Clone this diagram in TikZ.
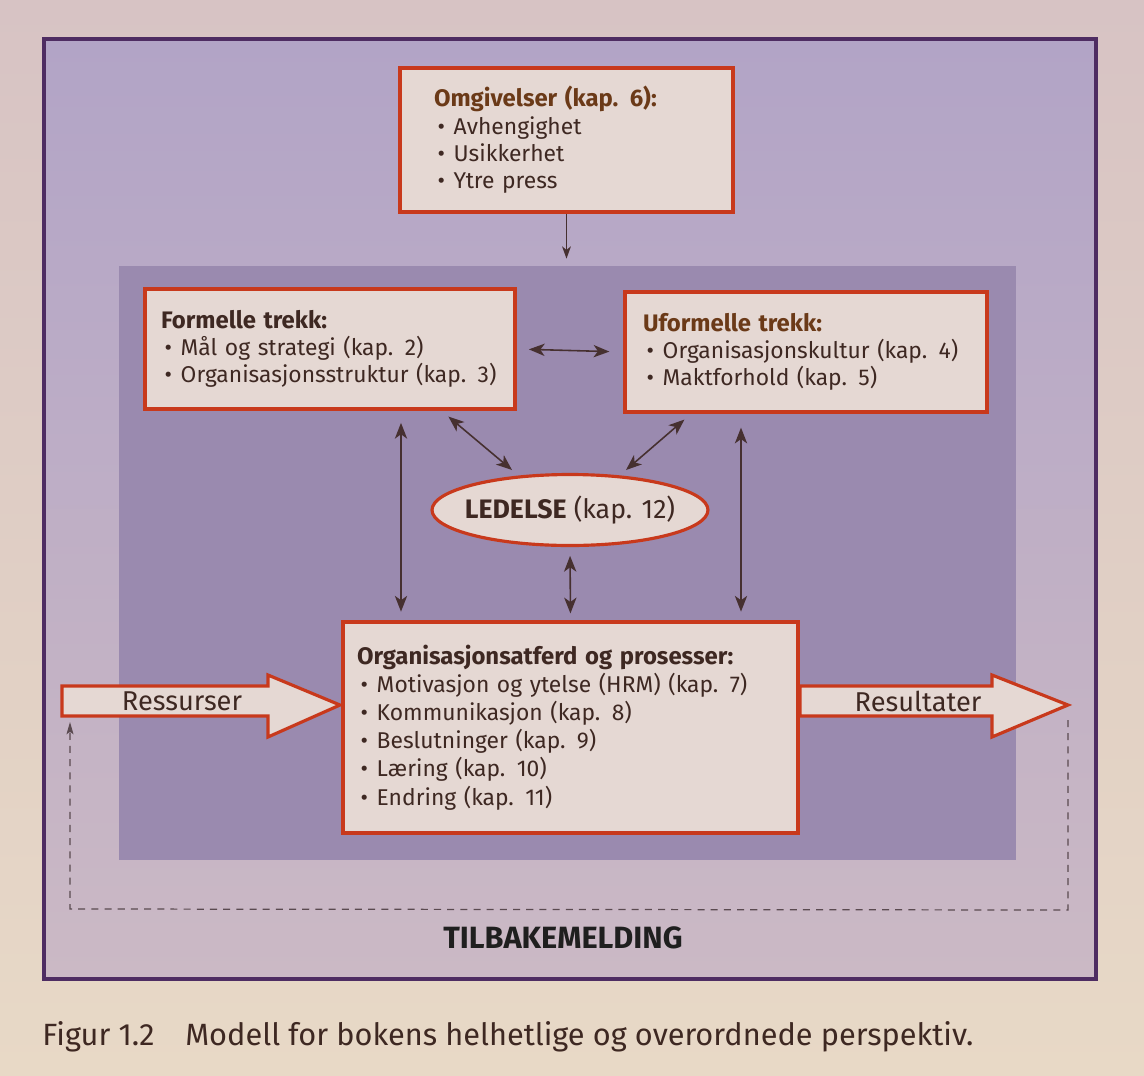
\documentclass[tikz,border=0pt]{standalone}
\usepackage{fontspec}
\setmainfont{Fira Sans}
\usetikzlibrary{arrows.meta,shapes.geometric}

\definecolor{pagetop}{HTML}{D7C3C4}
\definecolor{pagelow}{HTML}{E8D9C6}
\definecolor{frametop}{HTML}{B2A4C6}
\definecolor{framebot}{HTML}{CBB9C5}
\definecolor{framerule}{HTML}{4E2C62}
\definecolor{corefill}{HTML}{9A8AAF}
\definecolor{boxfill}{HTML}{E5D8D3}
\definecolor{boxrule}{HTML}{C8391C}
\definecolor{ink}{HTML}{3E2822}
\definecolor{inkbrown}{HTML}{6B3A18}
\definecolor{arrowink}{HTML}{463030}
\definecolor{dashink}{HTML}{5A4A50}

\newcommand\bxfont{\fontsize{13}{15.5}\selectfont}
\newcommand\ttl[1]{{\fontsize{13.6}{15.5}\selectfont\bfseries #1}}
\newcommand\itm{\hspace*{2pt}\textbullet\hspace{5pt}}

\tikzset{
  infobox/.style={rectangle, draw=boxrule, line width=1.8pt, fill=boxfill,
    inner ysep=0pt, align=left, font=\bxfont, text=ink},
  twoway/.style={draw=arrowink, line width=0.9pt,
    {Stealth[length=9pt,width=7pt,inset=2.5pt]}-{Stealth[length=9pt,width=7pt,inset=2.5pt]}},
  oneway/.style={draw=arrowink, line width=0.8pt,
    -{Stealth[length=7pt,width=5pt,inset=2pt]}},
  flowarrow/.style={draw=boxrule, line width=1.8pt, fill=boxfill, line join=miter},
  feedback/.style={draw=dashink, line width=0.7pt, dash pattern=on 4pt off 3.5pt,
    -{Stealth[length=7pt,width=4pt,inset=1.5pt]}},
}

\begin{document}
\begin{tikzpicture}[x=0.02cm,y=-0.02cm]
  % page
  \shade[top color=pagetop, bottom color=pagelow] (0,0) rectangle (1144,1076);
  \useasboundingbox (0,0) rectangle (1144,1076);

  % outer frame and inner field
  \shade[top color=frametop, bottom color=framebot] (44,39) rectangle (1096,979);
  \draw[framerule, line width=2.2pt] (44,39) rectangle (1096,979);
  \node[rectangle, fill=corefill, minimum width=17.94cm, minimum height=11.88cm,
        inner sep=0pt] (core) at (567.5,563) {};

  % boxes
  \node[infobox, minimum width=6.66cm, minimum height=2.88cm, inner xsep=0.68cm,
        text width=5.3cm] (omg) at (566.5,140)
    {\ttl{\color{inkbrown}Omgivelser (kap. 6):}\\
     \itm Avhengighet\\
     \itm Usikkerhet\\
     \itm Ytre press};

  \node[infobox, minimum width=7.4cm, minimum height=2.4cm, inner xsep=0.32cm,
        text width=6.76cm] (form) at (330,349)
    {\ttl{Formelle trekk:}\\
     \itm Mål og strategi (kap. 2)\\
     \itm Organisasjonsstruktur (kap. 3)};

  \node[infobox, minimum width=7.24cm, minimum height=2.4cm, inner xsep=0.36cm,
        text width=6.52cm] (uform) at (806,352)
    {\ttl{\color{inkbrown}Uformelle trekk:}\\
     \itm Organisasjonskultur (kap. 4)\\
     \itm Maktforhold (kap. 5)};

  % the label is boxed to zero width so the ellipse keeps its own size
  \node[ellipse, draw=boxrule, line width=1.8pt, fill=boxfill, inner sep=0pt,
        minimum width=5.52cm, minimum height=1.42cm, text=ink,
        font=\fontsize{15.2}{17}\selectfont] (led) at (570,510)
    {\makebox[0pt]{\textbf{LEDELSE} (kap. 12)}};

  \node[infobox, minimum width=9.1cm, minimum height=4.22cm, inner xsep=0.28cm,
        text width=8.54cm, font=\fontsize{13}{16}\selectfont] (org) at (570.5,727.5)
    {\ttl{Organisasjonsatferd og prosesser:}\\
     \itm Motivasjon og ytelse (HRM) (kap. 7)\\
     \itm Kommunikasjon (kap. 8)\\
     \itm Beslutninger (kap. 9)\\
     \itm Læring (kap. 10)\\
     \itm Endring (kap. 11)};

  % input and output arrows
  \draw[flowarrow] (62,686) -- (268,686) -- (268,675) -- (340,705)
    -- (268,737) -- (268,716) -- (62,716) -- cycle;
  \node[font=\fontsize{15.5}{17}\selectfont, text=ink] (res) at (182,701) {Ressurser};
  \draw[flowarrow] (800,686) -- (992,686) -- (992,675) -- (1068,705)
    -- (992,737) -- (992,716) -- (800,716) -- cycle;
  \node[font=\fontsize{15.5}{17}\selectfont, text=ink] (out) at (918,701) {Resultater};

  % relations
  \coordinate (lv) at (401,500);
  \coordinate (rv) at (741,500);
  \draw[oneway, shorten >=4pt] (omg.south) -- (omg.south |- core.north);
  \draw[twoway, shorten <=7pt, shorten >=8pt] (form.east) -- (uform.west);
  \draw[twoway, shorten <=7pt, shorten >=5pt] (form.south -| lv) -- (org.north -| lv);
  \draw[twoway, shorten <=8pt, shorten >=5pt] (uform.south -| rv) -- (org.north -| rv);
  \draw[twoway] ([xshift=6.1cm,yshift=-0.12cm]form.south west)
             -- ([xshift=-1.16cm,yshift=0.8cm]led.center);
  \draw[twoway] ([xshift=1.22cm,yshift=-0.12cm]uform.south west)
             -- ([xshift=1.12cm,yshift=0.8cm]led.center);
  \draw[twoway, shorten <=5pt, shorten >=4pt] (led.south) -- (org.north);

  % feedback loop
  \coordinate (fbstart) at (1068,720);
  \coordinate (fbright) at (1068,910);
  \coordinate (fbleft) at (70,909);
  \coordinate (fbend) at (70,722);
  \draw[feedback] (fbstart) -- (fbright) -- (fbleft) -- (fbend);
  \node[font=\fontsize{17.5}{20}\selectfont\bfseries, text=black!88] (fbtext)
    at (563,938) {TILBAKEMELDING};

  % caption
  \node[anchor=west, font=\fontsize{17.5}{20}\selectfont, text=ink, inner sep=0pt]
    (cap) at (42,1037) {Figur 1.2\quad Modell for bokens helhetlige og overordnede perspektiv.};
\end{tikzpicture}
\end{document}
